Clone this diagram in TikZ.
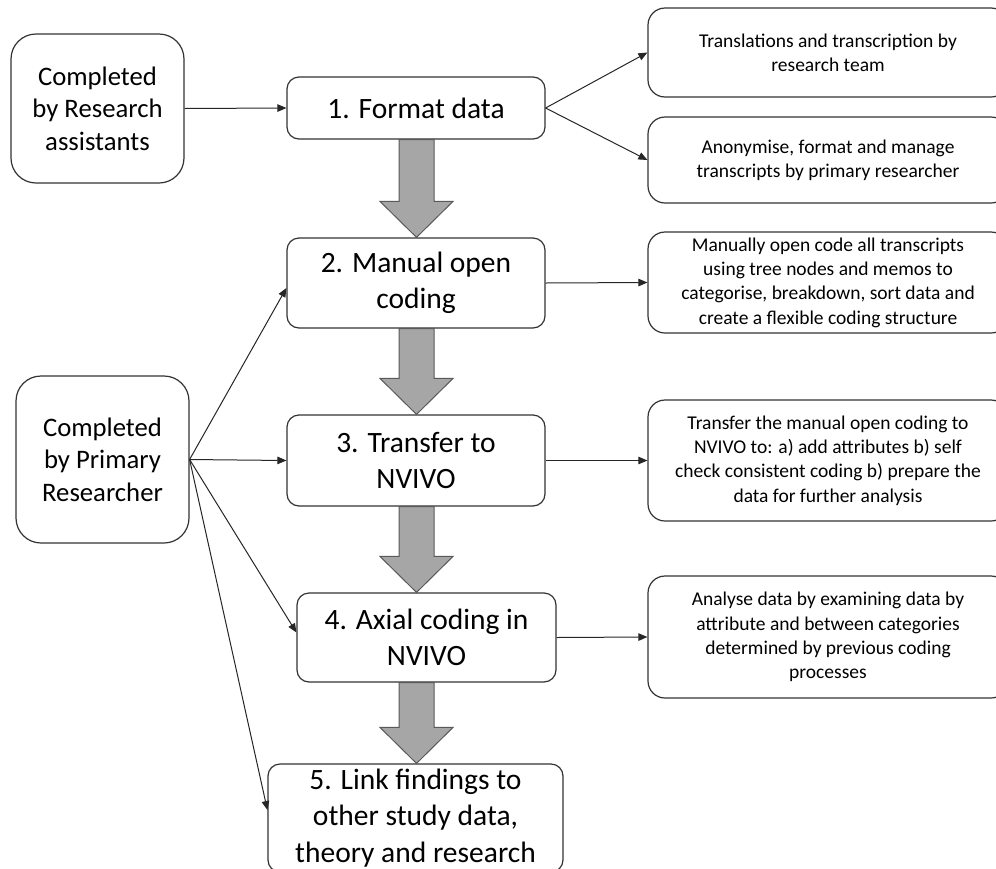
\documentclass[tikz,border=0pt]{standalone}
\usepackage{fontspec}
\setmainfont{Carlito}
\usetikzlibrary{arrows.meta,calc}
\begin{document}
\begin{tikzpicture}[x=1pt,y=-1pt,
  box/.style={draw=black!80, line width=1.2pt, fill=white, align=center, inner sep=0pt},
  stepbox/.style={box, rounded corners=12pt, font=\fontsize{29.5}{36.4}\selectfont},
  agentbox/.style={box, rounded corners=25pt, font=\fontsize{26.7}{32.6}\selectfont},
  notebox/.style={box, rounded corners=17pt, minimum width=360pt, font=\fontsize{19.5}{24.3}\selectfont},
  link/.style={draw=black!85, line width=1pt, -{Triangle[length=9pt,width=7.5pt]}},
  fat/.style={draw=black!65, fill=black!35, line width=1pt, line join=miter}]

\clip (0,0) rectangle (996,868);

% who does the work
\node[agentbox, minimum width=173pt, minimum height=149pt] (ra) at (97.5,108.5) {Completed\\by Research\\assistants};
\node[agentbox, minimum width=173pt, minimum height=167pt] (pr) at (102.5,459.5) {Completed\\by Primary\\Researcher};

% the five analysis steps
\node[stepbox, minimum width=258pt, minimum height=62pt] (s1) at (416,108) {1. Format data};
\node[stepbox, minimum width=258pt, minimum height=90pt] (s2) at (416,283) {2. Manual open\\coding};
\node[stepbox, minimum width=258pt, minimum height=91pt] (s3) at (416,460.5) {3. Transfer to\\NVIVO};
\node[stepbox, minimum width=259pt, minimum height=89pt] (s4) at (426.5,637.5) {4. Axial coding in\\NVIVO};
\node[stepbox, minimum width=295pt, minimum height=108pt] (s5) at (415.5,818) {5. Link findings to\\other study data,\\theory and research};

% descriptions of each step
\node[notebox, minimum height=89pt] (n1) at (828,52.5) {Translations and transcription by\\research team};
\node[notebox, minimum height=86pt] (n2) at (828,160) {Anonymise, format and manage\\transcripts by primary researcher};
\node[notebox, minimum height=101pt] (n3) at (828,282.5) {Manually open code all transcripts\\using tree nodes and memos to\\categorise, breakdown, sort data and\\create a flexible coding structure};
\node[notebox, minimum height=121pt] (n4) at (828,460.5) {Transfer the manual open coding to\\NVIVO to: a) add attributes b) self\\check consistent coding b) prepare the\\data for further analysis};
\node[notebox, minimum height=122pt] (n5) at (828,637) {Analyse data by examining data by\\attribute and between categories\\determined by previous coding\\processes};

% block arrows between consecutive steps
\coordinate (fx) at (416.5,0);
\foreach \a/\b in {s1/s2,s2/s3,s3/s4,s4/s5} {
  \draw[fat] ($(\a.south -| fx)+(-17.5,0)$) -- ($(\b.north -| fx)+(-17.5,-36)$)
    -- ($(\b.north -| fx)+(-36.5,-36)$) -- (\b.north -| fx)
    -- ($(\b.north -| fx)+(36.5,-36)$) -- ($(\b.north -| fx)+(17.5,-36)$)
    -- ($(\a.south -| fx)+(17.5,0)$) -- cycle;
}

% connectors
\draw[link] (ra.east) -- (s1.west);
\draw[link] (s1.east) -- (n1.west);
\draw[link] (s1.east) -- (n2.west);
\draw[link] (s2.east) -- (n3.west);
\draw[link] (s3.east) -- (n4.west);
\draw[link] (s4.east) -- (n5.west);
\draw[link] (pr.east) -- ([yshift=-5pt]s2.west);
\draw[link] (pr.east) -- (s3.west);
\draw[link] (pr.east) -- ([yshift=5pt]s4.west);
\draw[link] (pr.east) -- ([yshift=8pt]s5.west);
\end{tikzpicture}
\end{document}
